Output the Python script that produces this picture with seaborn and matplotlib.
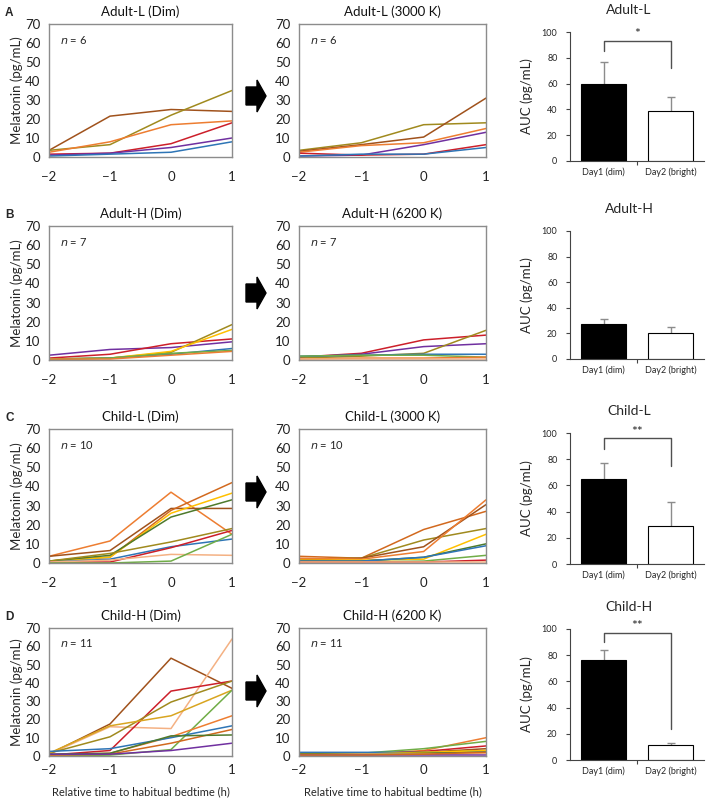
import numpy as np
import pandas as pd
import matplotlib
matplotlib.use("Agg")
import matplotlib.pyplot as plt
from matplotlib.patches import Polygon
import seaborn as sns

sns.set_theme(style="white")
plt.rcParams["font.family"] = ["Lato", "DejaVu Sans"]

# ---- data ---------------------------------------------------------------
TIMES = [-2, -1, 0, 1]

BLUE = "#2E75B6"
RED = "#CC1F2A"
PURPLE = "#7030A0"
ORANGE = "#ED7D31"
PEACH = "#F4B183"
BROWN = "#A0521C"
OLIVE = "#A08A1E"
GOLD = "#D9A520"
YELLOW = "#FFC000"
GREEN = "#70AD47"
DKGREEN = "#4E7A2C"
DKORANGE = "#D2691E"

# Adult-L
ADULT_L_DIM = [[3.5, 21.5, 25, 24], [3.5, 6.5, 22, 35], [2.5, 8, 17, 19],
               [1.5, 2, 7, 18], [1, 2, 5, 10], [0.5, 1.5, 2.5, 8]]
ADULT_L_DIM_COL = [BROWN, OLIVE, ORANGE, RED, PURPLE, BLUE]
ADULT_L_3000 = [[3.5, 7.5, 17, 18], [3, 6.5, 10.5, 31], [2.5, 6, 7.5, 15],
                [0.5, 1, 6.5, 13], [2, 1, 1.5, 6.5], [0.5, 1.5, 1.5, 5]]
ADULT_L_3000_COL = [OLIVE, BROWN, ORANGE, PURPLE, RED, BLUE]

# Adult-H
ADULT_H_DIM = [[2.5, 5.5, 6.5, 9.5], [1, 3, 8.5, 11], [0.5, 1, 4, 18.5],
               [0.5, 1, 4.5, 16], [0.5, 1, 3, 6], [0.5, 1, 3.5, 5],
               [0.5, 0.5, 2.5, 4.5]]
ADULT_H_DIM_COL = [PURPLE, RED, OLIVE, YELLOW, BLUE, GREEN, ORANGE]
ADULT_H_6200 = [[1.5, 3.5, 10.5, 13], [1.5, 3, 7, 8.5], [1, 2, 3.5, 15.5],
                [2, 2.5, 3, 3], [2, 2.5, 2.5, 1.5], [0.5, 1, 1, 1.5],
                [0.5, 0.5, 0.5, 0.5]]
ADULT_H_6200_COL = [RED, PURPLE, OLIVE, BLUE, GREEN, ORANGE, PEACH]

# Child-L
CHILD_L_DIM = [[3.5, 11.5, 37, 15], [3.5, 6.5, 28.5, 28.5], [1, 3, 27.5, 42],
               [1, 3, 26, 36.5], [1, 4, 24, 33], [1, 5, 11, 18],
               [0.5, 2, 8.5, 12.5], [0.5, 0.5, 8, 17], [0.5, 1.5, 4.5, 4],
               [0, 0, 1, 15]]
CHILD_L_DIM_COL = [ORANGE, BROWN, DKORANGE, YELLOW, DKGREEN, OLIVE, BLUE,
                   RED, PEACH, GREEN]
CHILD_L_3000 = [[3.5, 2.5, 17.5, 27], [2, 2.5, 12, 18], [1.5, 2.5, 8.5, 30.5],
                [2.5, 2, 6, 33], [1.5, 1.5, 2, 15], [1, 1, 3, 10],
                [1, 1, 3, 9], [0.5, 0.5, 1, 4], [0.5, 0.5, 0.5, 1.5],
                [0.5, 0.5, 0.5, 0.5]]
CHILD_L_3000_COL = [DKORANGE, OLIVE, BROWN, ORANGE, YELLOW, DKGREEN, BLUE,
                    GREEN, RED, PEACH]

# Child-H
CHILD_H_DIM = [[1, 17.5, 53.5, 37], [1, 16, 15, 64], [0.5, 3, 35.5, 41],
               [1.5, 10.5, 29.5, 41], [1.5, 16.5, 22, 36], [0, 0.5, 3.5, 36],
               [0.5, 1.5, 10.5, 22], [2.5, 4, 10, 16.5], [0.5, 1, 7, 14.5],
               [1, 1.5, 11, 11.5], [1, 1, 3, 7]]
CHILD_H_DIM_COL = [BROWN, PEACH, RED, OLIVE, GOLD, GREEN, ORANGE, BLUE,
                   DKORANGE, DKGREEN, PURPLE]
CHILD_H_6200 = [[1, 1, 3, 10], [1.5, 1.5, 4, 8], [1, 1, 2.5, 5.5],
                [0.5, 1, 2, 4], [0.5, 0.5, 2, 3], [2, 2, 2, 2.5],
                [1, 1, 2, 3], [1, 1, 1.5, 2], [0.5, 1, 1, 1.5],
                [0.5, 0.5, 0.5, 0.5], [0.5, 0.5, 1, 2]]
CHILD_H_6200_COL = [ORANGE, GREEN, RED, BROWN, OLIVE, BLUE, YELLOW, DKGREEN,
                    PEACH, PURPLE, DKORANGE]

ROW_LABELS = ["A", "B", "C", "D"]
GROUPS = ["Adult-L", "Adult-H", "Child-L", "Child-H"]
DIM_TITLES = ["Adult-L (Dim)", "Adult-H (Dim)", "Child-L (Dim)", "Child-H (Dim)"]
BRIGHT_TITLES = ["Adult-L (3000 K)", "Adult-H (6200 K)",
                 "Child-L (3000 K)", "Child-H (6200 K)"]
N_SUBJ = [6, 7, 10, 11]

BAR_LABELS = ["Day1 (dim)", "Day2 (bright)"]
AUC_ADULT_L = [60, 39]
SEM_ADULT_L = [17, 11]
AUC_ADULT_H = [27.5, 20]
SEM_ADULT_H = [4, 5]
AUC_CHILD_L = [65, 29]
SEM_CHILD_L = [12, 18]
AUC_CHILD_H = [76.5, 11.5]
SEM_CHILD_H = [7.5, 1.5]

SIG_MARK = ["*", None, "**", "**"]
SIG_TOP = [93, None, 96, 97]
SIG_LEFT = [85, None, 88, 90]
SIG_RIGHT = [72, None, 75, 23.5]

DIM_DATA = [ADULT_L_DIM, ADULT_H_DIM, CHILD_L_DIM, CHILD_H_DIM]
DIM_COLS = [ADULT_L_DIM_COL, ADULT_H_DIM_COL, CHILD_L_DIM_COL, CHILD_H_DIM_COL]
BRIGHT_DATA = [ADULT_L_3000, ADULT_H_6200, CHILD_L_3000, CHILD_H_6200]
BRIGHT_COLS = [ADULT_L_3000_COL, ADULT_H_6200_COL, CHILD_L_3000_COL, CHILD_H_6200_COL]
AUC = [AUC_ADULT_L, AUC_ADULT_H, AUC_CHILD_L, AUC_CHILD_H]
SEM = [SEM_ADULT_L, SEM_ADULT_H, SEM_CHILD_L, SEM_CHILD_H]

# ---- layout (pixels) ----------------------------------------------------
W, H = 709, 799
LINE_TOPS = [24, 226, 429, 628]
LINE_BOTS = [157, 360, 563, 756]
BAR_TOPS = [32, 231, 433, 629]
BAR_BOTS = [161, 359, 564, 760]
X_LEFT = (49, 232)
X_MID = (299, 486)
X_BAR = (570, 704)
ARROW_Y = [96, 293, 492, 691]
SPINE = "#8C8C8C"


def rect(x0, x1, y0, y1):
    return [x0 / W, 1 - y1 / H, (x1 - x0) / W, (y1 - y0) / H]


def line_panel(ax, series, colors, title, n, ylabel, last):
    rows = []
    for i, vals in enumerate(series):
        for t, v in zip(TIMES, vals):
            rows.append({"subj": f"s{i}", "time": t, "mel": v})
    df = pd.DataFrame(rows)
    order = [f"s{i}" for i in range(len(series))]
    sns.lineplot(data=df, x="time", y="mel", hue="subj", hue_order=order,
                 palette=colors, estimator=None, legend=False, linewidth=1.1,
                 ax=ax)
    ax.set_xlim(-2, 1)
    ax.set_ylim(0, 70)
    ax.set_xticks(TIMES)
    ax.set_xticklabels(["\u22122", "\u22121", "0", "1"])
    ax.set_yticks(range(0, 71, 10))
    ax.tick_params(axis="both", length=0, labelsize=9.5, colors="#222222")
    ax.tick_params(axis="x", pad=6 if last else 10)
    ax.tick_params(axis="y", pad=6)
    for s in ax.spines.values():
        s.set_color(SPINE)
        s.set_linewidth(1.0)
    ax.set_title(title, fontsize=9.5, pad=6, color="#111111")
    ax.text(0.06, 0.88, r"$n$" + f" = {n}", transform=ax.transAxes,
            fontsize=8, va="center", ha="left")
    ax.set_ylabel(ylabel, fontsize=9.5, labelpad=2)
    if last:
        ax.set_xlabel("Relative time to habitual bedtime (h)", fontsize=8,
                      va="center")
        ax.xaxis.set_label_coords(0.5, -0.28)
    else:
        ax.set_xlabel("")


def bar_panel(ax, vals, errs, title, k):
    sns.barplot(x=BAR_LABELS, y=vals, hue=BAR_LABELS, palette=["black", "white"],
                legend=False, edgecolor="black", linewidth=0.8, width=0.67,
                ax=ax)
    _, caps, _ = ax.errorbar(x=[0, 1], y=vals, yerr=[[0, 0], errs], fmt="none",
                             ecolor="#8C8C8C", elinewidth=1, capsize=3,
                             capthick=1, zorder=0.5)
    caps[0].set_visible(False)
    ax.set_xlim(-0.5, 1.5)
    ax.set_ylim(0, 100)
    ax.set_yticks(range(0, 101, 20))
    ax.tick_params(axis="y", length=3, width=0.8, labelsize=6.5, left=True,
                   pad=6, color="#444444")
    ax.tick_params(axis="x", length=0, labelsize=6.5, pad=5)
    ax.set_xticks([0.5], minor=True)
    ax.tick_params(axis="x", which="minor", length=3, width=0.8, bottom=True,
                   color="#444444")
    sns.despine(ax=ax)
    for s in ("left", "bottom"):
        ax.spines[s].set_color("#444444")
        ax.spines[s].set_linewidth(0.8)
    ax.set_ylabel("AUC (pg/mL)", fontsize=9.5, labelpad=6)
    ax.set_xlabel("")
    ax.set_title(title, fontsize=10, pad=13, x=0.44)
    if SIG_MARK[k]:
        ax.plot([0, 0, 1, 1], [SIG_LEFT[k], SIG_TOP[k], SIG_TOP[k], SIG_RIGHT[k]],
                color="#505050", linewidth=1)
        ax.text(0.5, SIG_TOP[k] + 0.5, SIG_MARK[k], ha="center", va="bottom",
                fontsize=10)


def arrow(fig, yc):
    pts = [(246, yc - 9), (257, yc - 9), (257, yc - 16), (266, yc),
           (257, yc + 16), (257, yc + 9), (246, yc + 9)]
    pts = [(x / W, 1 - y / H) for x, y in pts]
    fig.patches.append(Polygon(pts, closed=True, color="black",
                               transform=fig.transFigure))


fig = plt.figure(figsize=(W / 100, H / 100), dpi=100)

for k in range(4):
    last = k == 3
    ax1 = fig.add_axes(rect(*X_LEFT, LINE_TOPS[k], LINE_BOTS[k]))
    line_panel(ax1, DIM_DATA[k], DIM_COLS[k], DIM_TITLES[k], N_SUBJ[k],
               "Melatonin (pg/mL)", last)
    ax2 = fig.add_axes(rect(*X_MID, LINE_TOPS[k], LINE_BOTS[k]))
    line_panel(ax2, BRIGHT_DATA[k], BRIGHT_COLS[k], BRIGHT_TITLES[k], N_SUBJ[k],
               "", last)
    ax3 = fig.add_axes(rect(*X_BAR, BAR_TOPS[k], BAR_BOTS[k]))
    bar_panel(ax3, AUC[k], SEM[k], GROUPS[k], k)
    arrow(fig, ARROW_Y[k])
    fig.text(5 / W, 1 - (LINE_TOPS[k] - 11) / H, ROW_LABELS[k],
             fontsize=8.5, fontweight="bold", family="Liberation Sans",
             va="center", ha="left")

fig.savefig("out.png", dpi=100)
